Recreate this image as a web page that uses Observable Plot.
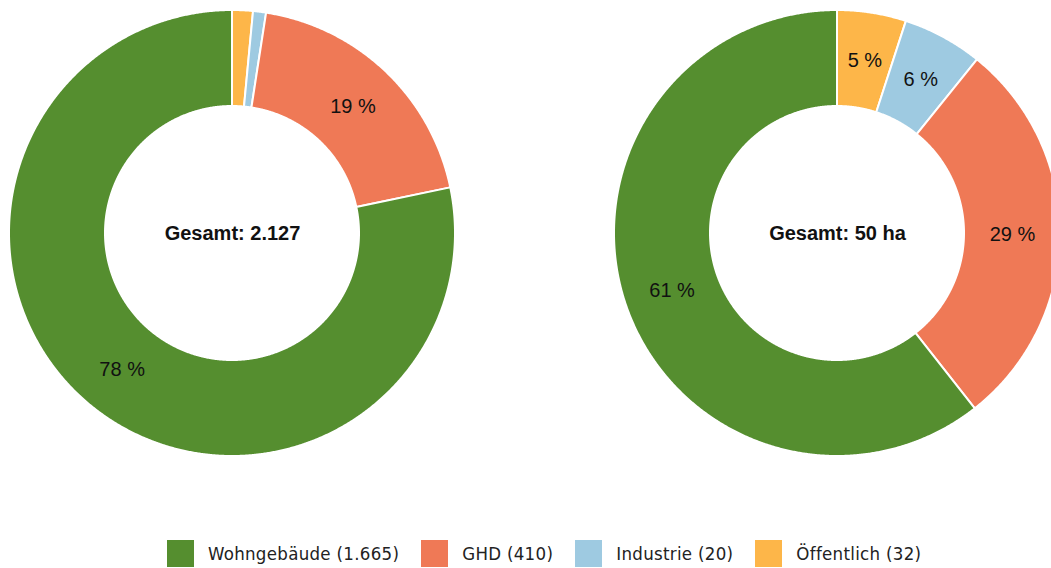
<!DOCTYPE html>
<html>
<head>
<meta charset="utf-8">
<script src="https://cdn.jsdelivr.net/npm/d3@7"></script>
<script src="https://cdn.jsdelivr.net/npm/@observablehq/plot@0.6"></script>
<style>
  body { margin: 0; background: #fff; overflow: hidden; }
  #legend { display: flex; align-items: center; margin-top: 70px; margin-left: 167px; gap: 22px;
            font-family: "DejaVu Sans Condensed", "DejaVu Sans", sans-serif; font-stretch: condensed;
            font-size: 18.5px; letter-spacing: 0.3px; color: #222; }
  .item { display: flex; align-items: center; gap: 14px; }
  .sw { width: 27px; height: 27px; display: inline-block; }
</style>
</head>
<body>
<div id="chart"></div>
<div id="legend"></div>
<script>
// ---- data ----
const categories = ["Wohngebäude", "GHD", "Industrie", "Öffentlich"];
const colors = ["#558e2f", "#ef7956", "#9ecae1", "#fdb649"];
const countValues = [1665, 410, 20, 32];      // Anzahl Gebäude
const areaValues = [30.3, 14.3, 2.9, 2.5];     // Fläche in ha
const charts = ["Anzahl", "Fläche"];
const totalSuffix = ["", " ha"];

// ---- layout ----
const W = 1051, H = 470;
const centersX = [232, 837], cy = 233;
const rOuter = 223, rInner = 127, rLabel = 175;
const de = d3.formatLocale({decimal: ",", thousands: ".", grouping: [3], currency: ["", " €"]});
const fmt = de.format(",");

const slicePoints = [], labels = [], centers = [];
[countValues, areaValues].forEach((values, c) => {
  const cx = centersX[c];
  const total = d3.sum(values);
  const order = [3, 2, 1, 0]; // clockwise from top: Öffentlich, Industrie, GHD, Wohngebäude
  let a = 0;
  for (const i of order) {
    const share = values[i] / total;
    const a0 = a, a1 = a + share * 2 * Math.PI;
    const n = Math.max(2, Math.ceil((a1 - a0) / 0.005));
    for (let k = 0; k <= n; k++) {
      const t = a0 + (a1 - a0) * k / n;
      slicePoints.push({
        key: charts[c] + i, category: categories[i],
        xo: cx + rOuter * Math.sin(t), yo: cy - rOuter * Math.cos(t),
        xi: cx + rInner * Math.sin(t), yi: cy - rInner * Math.cos(t)
      });
    }
    const m = (a0 + a1) / 2;
    if (share >= 0.03) labels.push({x: cx + rLabel * Math.sin(m), y: cy - rLabel * Math.cos(m), text: Math.round(share * 100) + " %"});
    a = a1;
  }
  centers.push({x: cx, y: cy, text: "Gesamt: " + fmt(Math.round(total)) + totalSuffix[c]});
});

const plot = Plot.plot({
  width: W, height: H,
  margin: 0,
  x: {domain: [0, W], range: [0, W], axis: null},
  y: {domain: [0, H], range: [0, H], axis: null},
  color: {domain: categories, range: colors},
  style: {fontFamily: "'Liberation Sans', Arial, sans-serif", background: "#fff"},
  marks: [
    Plot.area(slicePoints, {x1: "xo", y1: "yo", x2: "xi", y2: "yi", z: "key", fill: "category",
      stroke: "white", strokeWidth: 2, curve: "linear", clip: true}),
    Plot.text(labels, {x: "x", y: "y", text: "text", fontSize: 20, fill: "#111"}),
    Plot.text(centers, {x: "x", y: "y", text: "text", fontSize: 20, fontWeight: "bold", fill: "#111"})
  ]
});
document.getElementById("chart").appendChild(plot);

const legend = document.getElementById("legend");
categories.forEach((c, i) => {
  const item = document.createElement("div");
  item.className = "item";
  const sw = document.createElement("span");
  sw.className = "sw";
  sw.style.background = colors[i];
  const lab = document.createElement("span");
  lab.textContent = `${c} (${fmt(countValues[i])})`;
  item.append(sw, lab);
  legend.appendChild(item);
});
</script>
</body>
</html>
